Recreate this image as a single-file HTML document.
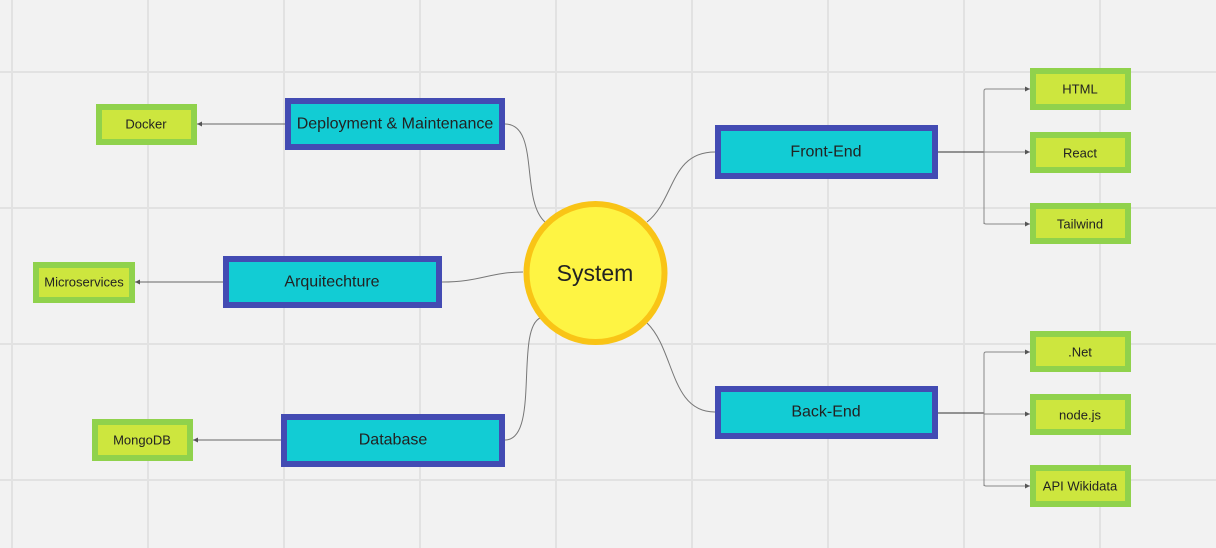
<!DOCTYPE html>
<html><head><meta charset="utf-8"><style>
html,body{margin:0;padding:0;background:#f2f2f2;}
svg{display:block;font-family:"Liberation Sans",sans-serif;}
</style></head><body>
<svg width="1216" height="548" viewBox="0 0 1216 548" xmlns="http://www.w3.org/2000/svg">
<defs>
<marker id="a" markerWidth="6" markerHeight="6" refX="5" refY="3" orient="auto" markerUnits="userSpaceOnUse">
<path d="M0,0.5 L5,3 L0,5.5z" fill="#555"/></marker>
</defs>
<rect width="1216" height="548" fill="#f2f2f2"/>
<g stroke="#e2e2e2" stroke-width="2">
<line x1="12" y1="0" x2="12" y2="548"/><line x1="148" y1="0" x2="148" y2="548"/><line x1="284" y1="0" x2="284" y2="548"/><line x1="420" y1="0" x2="420" y2="548"/><line x1="556" y1="0" x2="556" y2="548"/><line x1="692" y1="0" x2="692" y2="548"/><line x1="828" y1="0" x2="828" y2="548"/><line x1="964" y1="0" x2="964" y2="548"/><line x1="1100" y1="0" x2="1100" y2="548"/>
<line x1="0" y1="72" x2="1216" y2="72"/><line x1="0" y1="208" x2="1216" y2="208"/><line x1="0" y1="344" x2="1216" y2="344"/><line x1="0" y1="480" x2="1216" y2="480"/>
</g>
<g fill="none" stroke="#777" stroke-width="1">
<path d="M505,124 C540,124 520,200 545,222"/>
<path d="M442,282 C480,282 490,272 523,272"/>
<path d="M505,440 C540,440 515,330 540,318"/>
<path d="M715,152 C670,152 675,200 647,222"/>
<path d="M715,412 C670,412 675,350 647,323"/>
</g>
<g fill="none" stroke="#666" stroke-width="1">
<line x1="285" y1="124" x2="197" y2="124" marker-end="url(#a)"/>
<line x1="223" y1="282" x2="135" y2="282" marker-end="url(#a)"/>
<line x1="281" y1="440" x2="193" y2="440" marker-end="url(#a)"/>
</g>
<g fill="none" stroke="#333" stroke-width="1"><line x1="938" y1="152" x2="984" y2="152"/><line x1="938" y1="413" x2="984" y2="413"/></g>
<g fill="none" stroke="#888" stroke-width="1">
<path d="M984,224 V91 Q984,89 986,89 H1030" marker-end="url(#a)"/>
<line x1="984" y1="152" x2="1030" y2="152" marker-end="url(#a)"/>
<path d="M984,152 V222 Q984,224 986,224 H1030" marker-end="url(#a)"/>
<path d="M984,486 V354 Q984,352 986,352 H1030" marker-end="url(#a)"/>
<line x1="984" y1="414" x2="1030" y2="414" marker-end="url(#a)"/>
<path d="M984,414 V484 Q984,486 986,486 H1030" marker-end="url(#a)"/>
</g>
<g fill="#12ccd4" stroke="#434bb3" stroke-width="6">
<rect x="288" y="101" width="214" height="46"/>
<rect x="226" y="259" width="213" height="46"/>
<rect x="284" y="417" width="218" height="47"/>
<rect x="718" y="128" width="217" height="48"/>
<rect x="718" y="389" width="217" height="47"/>
</g>
<g fill="#cde63e" stroke="#90d24c" stroke-width="6">
<rect x="99" y="107" width="95" height="35"/>
<rect x="36" y="265" width="96" height="35"/>
<rect x="95" y="422" width="95" height="36"/>
<rect x="1033" y="71" width="95" height="36"/>
<rect x="1033" y="135" width="95" height="35"/>
<rect x="1033" y="206" width="95" height="35"/>
<rect x="1033" y="334" width="95" height="35"/>
<rect x="1033" y="397" width="95" height="35"/>
<rect x="1033" y="468" width="95" height="36"/>
</g>
<circle cx="595.5" cy="273" r="69" fill="#fef443" stroke="#f9c416" stroke-width="6"/>
<g fill="#222" text-anchor="middle" dominant-baseline="central">
<text x="595" y="273" font-size="23">System</text>
<g font-size="16">
<text x="395" y="124">Deployment &amp; Maintenance</text>
<text x="332" y="282">Arquitechture</text>
<text x="393" y="440">Database</text>
<text x="826" y="152">Front-End</text>
<text x="826" y="412">Back-End</text>
</g>
<g font-size="13">
<text x="146" y="124">Docker</text>
<text x="84" y="282">Microservices</text>
<text x="142" y="440">MongoDB</text>
<text x="1080" y="89">HTML</text>
<text x="1080" y="153">React</text>
<text x="1080" y="224">Tailwind</text>
<text x="1080" y="352">.Net</text>
<text x="1080" y="415">node.js</text>
<text x="1080" y="486">API Wikidata</text>
</g>
</g>
</svg>
</body></html>
